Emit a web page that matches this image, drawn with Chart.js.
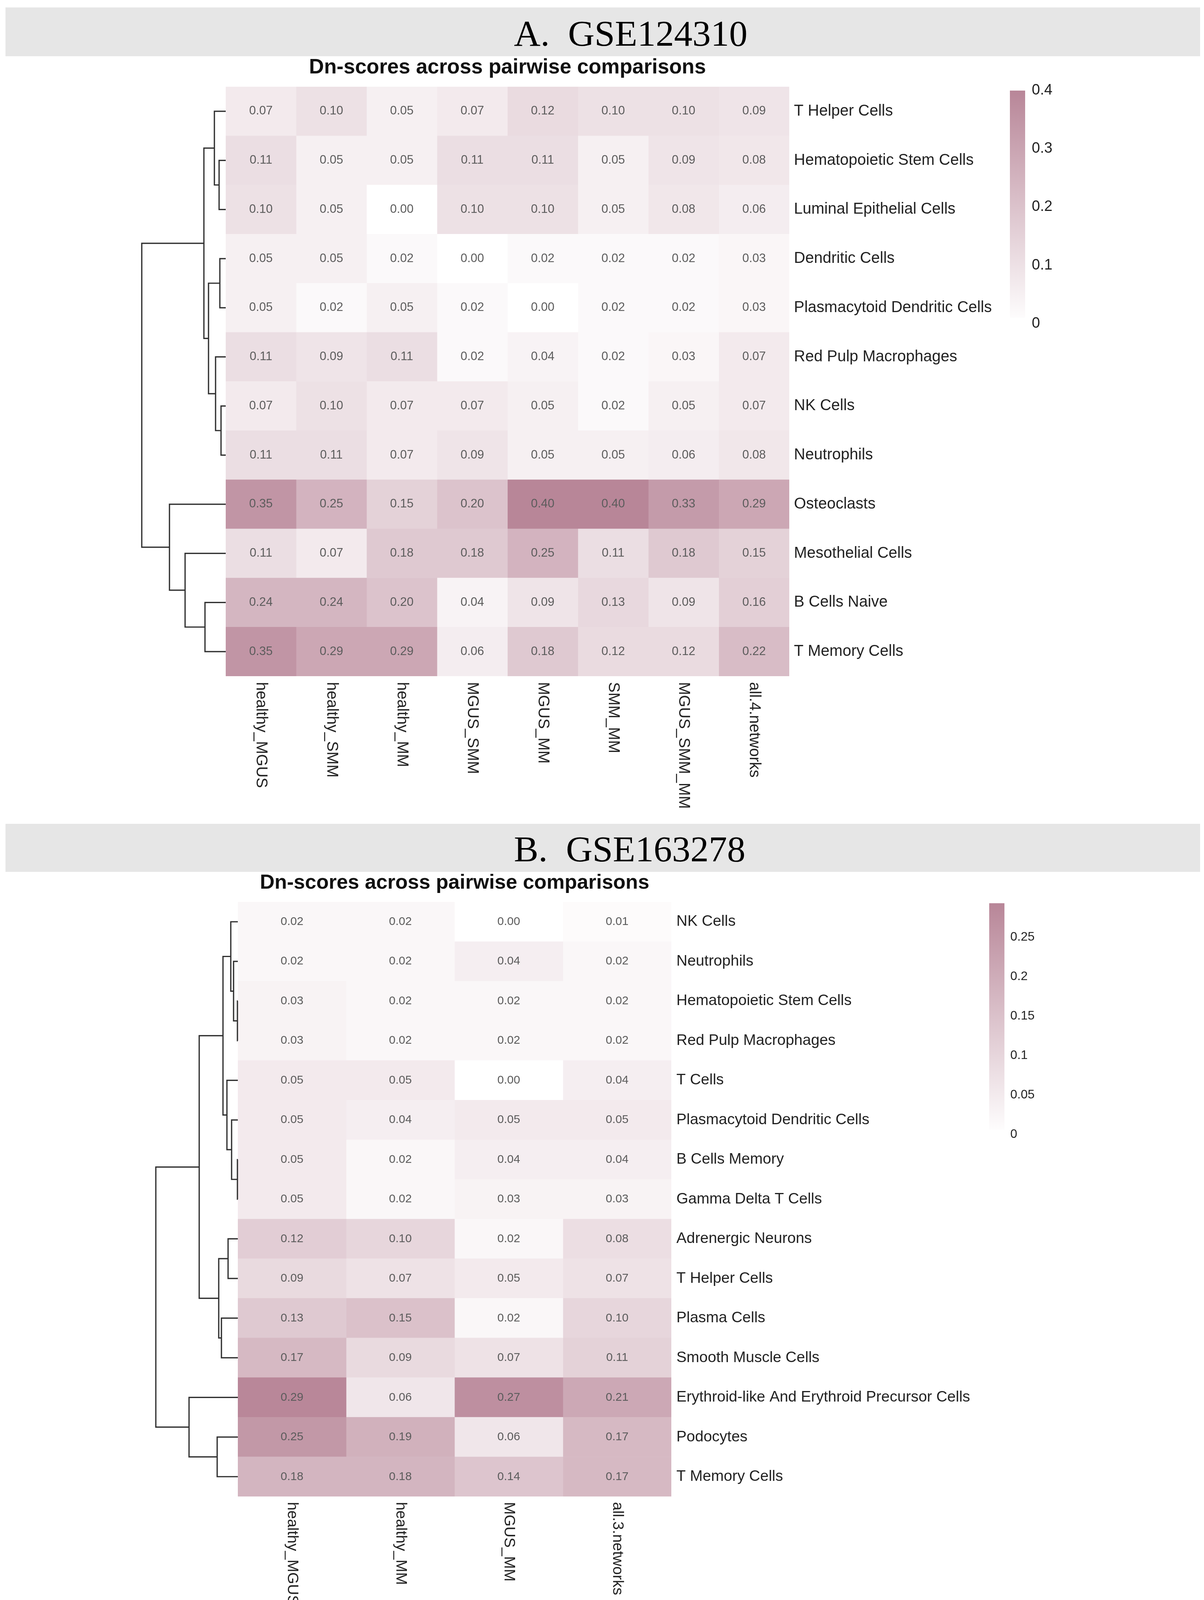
<!DOCTYPE html>
<html>
<head>
<meta charset="utf-8">
<title>Dn-scores across pairwise comparisons</title>
<script src="https://cdn.jsdelivr.net/npm/chart.js@4.4.1/dist/chart.umd.min.js"></script>
<style>
  html, body { margin: 0; padding: 0; background: #fff; }
  body { width: 3083px; height: 4153px; position: relative; overflow: hidden; }
  .band { position: absolute; left: 14px; width: 3059px; background: #e6e6e6; }
  .band span {
    position: absolute; left: 1302px;
    font-family: "Liberation Serif", "Times New Roman", serif;
    font-size: 94px; line-height: 94px; white-space: pre; color: #000;
  }
  canvas { position: absolute; }
</style>
</head>
<body>
<div class="band" style="top:19px;height:125px"><span style="top:19px">A.  GSE124310</span></div>
<div class="band" style="top:2109px;height:123px"><span style="top:17px">B.  GSE163278</span></div>

<canvas id="heatA" width="2270" height="2000" style="left:300px;top:100px"></canvas>
<canvas id="legendA" width="200" height="676" style="left:2586px;top:192px"></canvas>
<canvas id="heatB" width="2230" height="1990" style="left:300px;top:2150px"></canvas>
<canvas id="legendB" width="200" height="660" style="left:2533px;top:2278px"></canvas>

<script>
// ---- Panel A: GSE124310 ----
const rowsA = ['T Helper Cells', 'Hematopoietic Stem Cells', 'Luminal Epithelial Cells', 'Dendritic Cells',
  'Plasmacytoid Dendritic Cells', 'Red Pulp Macrophages', 'NK Cells', 'Neutrophils',
  'Osteoclasts', 'Mesothelial Cells', 'B Cells Naive', 'T Memory Cells'];
const colsA = ['healthy_MGUS', 'healthy_SMM', 'healthy_MM', 'MGUS_SMM', 'MGUS_MM', 'SMM_MM', 'MGUS_SMM_MM', 'all.4.networks'];
const valuesA = [
  [0.07, 0.10, 0.05, 0.07, 0.12, 0.10, 0.10, 0.09],
  [0.11, 0.05, 0.05, 0.11, 0.11, 0.05, 0.09, 0.08],
  [0.10, 0.05, 0.00, 0.10, 0.10, 0.05, 0.08, 0.06],
  [0.05, 0.05, 0.02, 0.00, 0.02, 0.02, 0.02, 0.03],
  [0.05, 0.02, 0.05, 0.02, 0.00, 0.02, 0.02, 0.03],
  [0.11, 0.09, 0.11, 0.02, 0.04, 0.02, 0.03, 0.07],
  [0.07, 0.10, 0.07, 0.07, 0.05, 0.02, 0.05, 0.07],
  [0.11, 0.11, 0.07, 0.09, 0.05, 0.05, 0.06, 0.08],
  [0.35, 0.25, 0.15, 0.20, 0.40, 0.40, 0.33, 0.29],
  [0.11, 0.07, 0.18, 0.18, 0.25, 0.11, 0.18, 0.15],
  [0.24, 0.24, 0.20, 0.04, 0.09, 0.13, 0.09, 0.16],
  [0.35, 0.29, 0.29, 0.06, 0.18, 0.12, 0.12, 0.22]
];
// row clustering (hclust style: negative = leaf row, positive = earlier merge), relative height
const mergesA = [
  [-2, -3, 0.079], [-1, 1, 0.135], [-4, -5, 0.070], [-7, -8, 0.056], [-6, 4, 0.121],
  [3, 5, 0.205], [2, 6, 0.260], [-11, -12, 0.247], [-10, 8, 0.484], [-9, 9, 0.670], [7, 10, 1.0]
];
const legendRangeA = [0.01, 0.40];
const legendStepA = 0.1;

// ---- Panel B: GSE163278 ----
const rowsB = ['NK Cells', 'Neutrophils', 'Hematopoietic Stem Cells', 'Red Pulp Macrophages', 'T Cells',
  'Plasmacytoid Dendritic Cells', 'B Cells Memory', 'Gamma Delta T Cells', 'Adrenergic Neurons',
  'T Helper Cells', 'Plasma Cells', 'Smooth Muscle Cells', 'Erythroid-like And Erythroid Precursor Cells',
  'Podocytes', 'T Memory Cells'];
const colsB = ['healthy_MGUS', 'healthy_MM', 'MGUS_MM', 'all.3.networks'];
const valuesB = [
  [0.02, 0.02, 0.00, 0.01],
  [0.02, 0.02, 0.04, 0.02],
  [0.03, 0.02, 0.02, 0.02],
  [0.03, 0.02, 0.02, 0.02],
  [0.05, 0.05, 0.00, 0.04],
  [0.05, 0.04, 0.05, 0.05],
  [0.05, 0.02, 0.04, 0.04],
  [0.05, 0.02, 0.03, 0.03],
  [0.12, 0.10, 0.02, 0.08],
  [0.09, 0.07, 0.05, 0.07],
  [0.13, 0.15, 0.02, 0.10],
  [0.17, 0.09, 0.07, 0.11],
  [0.29, 0.06, 0.27, 0.21],
  [0.25, 0.19, 0.06, 0.17],
  [0.18, 0.18, 0.14, 0.17]
];
const mergesB = [
  [-3, -4, 0.005], [-2, 1, 0.052], [-1, 2, 0.086], [-7, -8, 0.005], [-6, 4, 0.076],
  [-5, 5, 0.133], [3, 6, 0.181], [-9, -10, 0.119], [-11, -12, 0.200], [8, 9, 0.233],
  [7, 10, 0.471], [-14, -15, 0.252], [-13, 12, 0.595], [11, 13, 1.0]
];
const legendRangeB = [0.006, 0.293];
const legendStepB = 0.05;

// colour ramp white -> mauve
const lowColor = [255, 255, 255];
const highColor = [184, 134, 152];
const FONT = '"Liberation Sans", Arial, Helvetica, sans-serif';

function shade(v, max) {
  const t = Math.max(0, Math.min(1, v / max));
  const c = lowColor.map((lo, k) => Math.round(lo + (highColor[k] - lo) * t));
  return `rgb(${c[0]}, ${c[1]}, ${c[2]})`;
}

function drawDendrogram(ctx, merges, yOf, left, width) {
  const nodes = [];
  const pos = ref => ref < 0 ? { x: left, y: yOf(-ref - 1) } : nodes[ref - 1];
  ctx.save();
  ctx.strokeStyle = '#2e2e2e';
  ctx.lineWidth = 3.2;
  ctx.beginPath();
  merges.forEach(([a, b, h]) => {
    const pa = pos(a), pb = pos(b);
    const x = left - h * width;
    ctx.moveTo(pa.x, pa.y);
    ctx.lineTo(x, pa.y);
    ctx.lineTo(x, pb.y);
    ctx.lineTo(pb.x, pb.y);
    nodes.push({ x, y: (pa.y + pb.y) / 2 });
  });
  ctx.stroke();
  ctx.restore();
}

function makeHeatmap(id, rows, cols, values, merges, max, cfg) {
  const heatPlugin = {
    id: 'heatExtras',
    afterDatasetsDraw(chart) {
      const ctx = chart.ctx;
      ctx.save();
      ctx.font = `${cfg.cellFont}px ${FONT}`;
      ctx.fillStyle = '#5c5c5c';
      ctx.textAlign = 'center';
      ctx.textBaseline = 'middle';
      chart.data.datasets.forEach((ds, ci) => {
        chart.getDatasetMeta(ci).data.forEach((bar, ri) => {
          const p = bar.getProps(['x', 'y', 'base'], true);
          ctx.fillText(values[ri][ci].toFixed(2), (p.x + p.base) / 2, p.y);
        });
      });
      ctx.restore();
    },
    afterDraw(chart) {
      const ctx = chart.ctx;
      const area = chart.chartArea;
      const xs = chart.scales.x, ys = chart.scales.y;
      // column labels, rotated to read downwards
      ctx.save();
      ctx.font = `${cfg.labelFont}px ${FONT}`;
      ctx.fillStyle = '#222';
      ctx.textAlign = 'left';
      ctx.textBaseline = 'middle';
      cols.forEach((c, ci) => {
        ctx.save();
        ctx.translate(xs.getPixelForValue(ci + 0.5), area.bottom + cfg.colGap);
        ctx.rotate(Math.PI / 2);
        ctx.fillText(c, 0, 0);
        ctx.restore();
      });
      ctx.restore();
      drawDendrogram(ctx, merges, i => ys.getPixelForValue(i), area.left, cfg.dendroWidth);
    }
  };

  return new Chart(document.getElementById(id), {
    type: 'bar',
    data: {
      labels: rows,
      datasets: cols.map((c, ci) => ({
        label: c,
        data: rows.map(() => [ci, ci + 1]),
        backgroundColor: rows.map((r, ri) => shade(values[ri][ci], max)),
        borderWidth: 0,
        barPercentage: 1,
        categoryPercentage: 1,
        grouped: false
      }))
    },
    options: {
      indexAxis: 'y',
      responsive: false,
      animation: false,
      events: [],
      layout: { padding: { left: cfg.padLeft, right: 0, top: 0, bottom: cfg.padBottom } },
      scales: {
        x: { type: 'linear', min: 0, max: cols.length, display: false },
        y: {
          type: 'category',
          position: 'right',
          grid: { display: false, drawTicks: false },
          border: { display: false },
          ticks: { autoSkip: false, padding: cfg.rowGap, color: '#222', font: { family: FONT, size: cfg.labelFont } },
          afterFit: s => { s.width = cfg.axisWidth; }
        }
      },
      plugins: {
        legend: { display: false },
        tooltip: { enabled: false },
        title: {
          display: true,
          text: 'Dn-scores across pairwise comparisons',
          fullSize: false,
          color: '#111',
          font: { family: FONT, size: cfg.titleFont, weight: 'bold', lineHeight: 1.2 },
          padding: { top: cfg.titleTop, bottom: cfg.titleBottom }
        }
      }
    },
    plugins: [heatPlugin]
  });
}

function makeLegend(id, range, step, fontSize, pad) {
  const canvas = document.getElementById(id);
  const barWidth = 39;
  return new Chart(canvas, {
    type: 'bar',
    data: {
      labels: [''],
      datasets: [{
        data: [range],
        borderWidth: 0,
        barPercentage: 1,
        categoryPercentage: 1,
        backgroundColor: context => {
          const chart = context.chart;
          if (!chart.chartArea) return shade(range[1], range[1]);
          const y = chart.scales.y;
          const g = chart.ctx.createLinearGradient(0, y.getPixelForValue(0), 0, y.getPixelForValue(range[1]));
          g.addColorStop(0, shade(0, range[1]));
          g.addColorStop(1, shade(range[1], range[1]));
          return g;
        }
      }]
    },
    options: {
      responsive: false,
      animation: false,
      events: [],
      layout: { padding: { top: 30, bottom: 30, left: 0, right: 0 } },
      scales: {
        x: { display: false },
        y: {
          min: 0,
          max: range[1],
          bounds: 'data',
          position: 'right',
          grid: { display: false, drawTicks: false },
          border: { display: false },
          ticks: {
            stepSize: step,
            includeBounds: false,
            padding: pad,
            color: '#222',
            font: { family: FONT, size: fontSize },
            callback: v => String(parseFloat(Number(v).toFixed(3)))
          },
          afterFit: s => { s.width = canvas.width - barWidth; }
        }
      },
      plugins: { legend: { display: false }, tooltip: { enabled: false } }
    }
  });
}

makeHeatmap('heatA', rowsA, colsA, valuesA, mergesA, legendRangeA[1], {
  padLeft: 278, padBottom: 369, axisWidth: 549, rowGap: 12, colGap: 15,
  titleTop: 42, titleBottom: 16.4, titleFont: 53, labelFont: 40, cellFont: 31, dendroWidth: 215
});
makeLegend('legendA', legendRangeA, legendStepA, 38, 17);

makeHeatmap('heatB', rowsB, colsB, valuesB, mergesB, legendRangeB[1], {
  padLeft: 309, padBottom: 309, axisWidth: 811, rowGap: 13, colGap: 14,
  titleTop: 79.8, titleBottom: 16.8, titleFont: 52, labelFont: 39, cellFont: 30, dendroWidth: 210
});
makeLegend('legendB', legendRangeB, legendStepB, 32, 15);
</script>
</body>
</html>
